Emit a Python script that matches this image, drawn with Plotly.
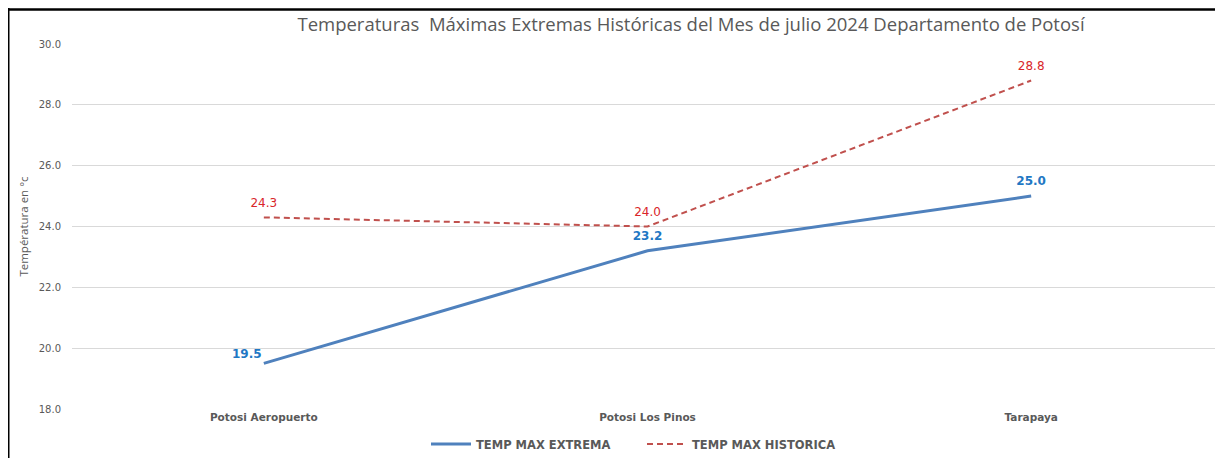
import plotly.graph_objects as go

estaciones = ["Potosi Aeropuerto", "Potosi Los Pinos", "Tarapaya"]
temp_max_extrema = [19.5, 23.2, 25.0]
temp_max_historica = [24.3, 24.0, 28.8]
y_ticks = [18.0, 20.0, 22.0, 24.0, 26.0, 28.0, 30.0]

# the page body has an 8px margin, so the figure starts at (8, 8) in the window
W, H = 1215, 450
L, R, T, B = 64, 0, 36, 49
LBL = "DejaVu Sans"
HIDDEN = dict(color="rgba(0,0,0,0)", line=dict(width=0, color="rgba(0,0,0,0)"))

fig = go.Figure()
fig.add_trace(go.Scatter(
    x=estaciones, y=temp_max_extrema, name="TEMP MAX EXTREMA",
    mode="lines+markers+text",
    line=dict(color="#4F81BD", width=3),
    marker=dict(size=[2, 11, 11], **HIDDEN),
    text=[f"{v:.1f}" for v in temp_max_extrema],
    textposition=["top left", "top center", "top center"],
    textfont=dict(family=LBL, size=12, color="#1F78C4", weight="bold"),
    cliponaxis=False,
))
fig.add_trace(go.Scatter(
    x=estaciones, y=temp_max_historica, name="TEMP MAX HISTORICA",
    mode="lines+markers+text",
    line=dict(color="#C0504D", width=2, dash="6px,4px"),
    marker=dict(size=11, **HIDDEN),
    text=[f"{v:.1f}" for v in temp_max_historica],
    textposition="top center",
    textfont=dict(family=LBL, size=12, color="#D9262A"),
    cliponaxis=False,
))

pw = W - L - R
ph = H - T - B
fig.add_shape(type="line", xref="paper", yref="paper",
              x0=(0 - L) / pw, x1=(W - L) / pw + 0.01,
              y0=(H - B - 1.5) / ph, y1=(H - B - 1.5) / ph,
              line=dict(color="black", width=2.5))
fig.add_shape(type="line", xref="paper", yref="paper",
              x0=(0.5 - L) / pw, x1=(0.5 - L) / pw,
              y0=(H - B) / ph, y1=-B / ph - 0.01,
              line=dict(color="black", width=2))

fig.update_layout(
    width=W, height=H,
    margin=dict(l=L, r=R, t=T, b=B, autoexpand=False),
    paper_bgcolor="white", plot_bgcolor="white",
    title=dict(text="Temperaturas  Máximas Extremas Históricas del Mes de julio 2024 Departamento de Potosí",
               x=683 / W, xanchor="center", y=1 - 17 / H, yanchor="middle",
               font=dict(family="Open Sans", size=18.5, color="#595959")),
    font=dict(family=LBL, color="#595959"),
    showlegend=True,
    legend=dict(orientation="h", x=(433 - 8 - 7 - L) / pw, xanchor="left",
                y=(H - B - 436) / ph, yanchor="middle",
                font=dict(family=LBL, size=11.5, color="#595959", weight="bold"),
                itemwidth=40, tracegroupgap=0,
                entrywidth=161, entrywidthmode="pixels"),
    xaxis=dict(range=[-0.5, 2.5], showgrid=False, zeroline=False, showline=False,
               automargin=False,
               tickfont=dict(family=LBL, size=10.5, color="#595959", weight="bold"),
               ticks="", fixedrange=True),
    yaxis=dict(range=[18, 30], tickvals=y_ticks, tickformat=".1f",
               showgrid=True, gridcolor="#D9D9D9", gridwidth=1, zeroline=False,
               showline=False, ticklabelstandoff=10, automargin=False,
               tickfont=dict(family=LBL, size=10, color="#595959"),
               title=dict(text="Températura en °c", standoff=7,
                          font=dict(family="Open Sans", size=11.5, color="#595959"))),
)

fig.write_html("out.html")
